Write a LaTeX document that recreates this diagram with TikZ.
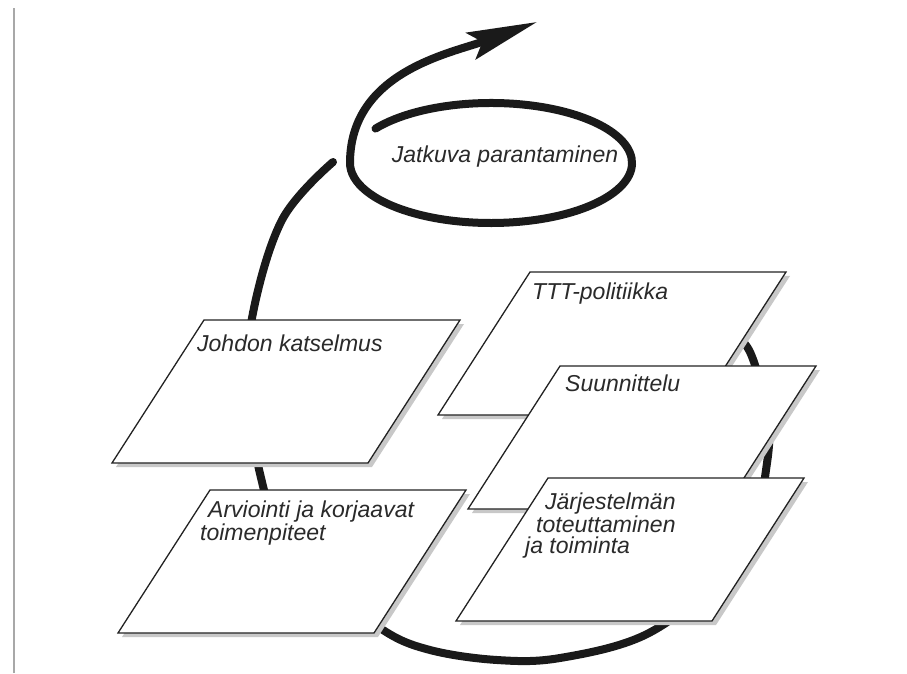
\documentclass[tikz,border=0pt]{standalone}
\usepackage{fontspec}
\setsansfont{Liberation Sans}
\usepackage{xcolor}
\definecolor{loopink}{HTML}{1A1A1A}
\definecolor{plateline}{HTML}{222222}
\definecolor{plateshade}{HTML}{C8C8C8}
\definecolor{labelink}{HTML}{2A2A2A}
\definecolor{edgegray}{HTML}{A8A8A8}
\usepackage{tikz}
\usetikzlibrary{arrows.meta}
% one slanted plate: name, bottom left x, bottom left y
\newcommand{\plate}[3]{%
  \fill[plateshadow] (#2+4,#3-4) -- ++(256,0) -- ++(92,143) -- ++(-256,0) -- cycle;
  \filldraw[platebox] (#2,#3) coordinate (#1) -- ++(256,0) -- ++(92,143) -- ++(-256,0) -- cycle;}

\begin{document}
\begin{tikzpicture}[x=1pt,y=1pt,
  loopline/.style={line width=8pt,draw=loopink,line cap=round},
  platebox/.style={fill=white,draw=plateline,line width=1.3pt},
  plateshadow/.style={fill=plateshade},
  plabel/.style={anchor=north west,inner sep=0pt,align=left,text=labelink,
    font=\sffamily\itshape\fontsize{23}{21}\selectfont}]
\useasboundingbox (0,0) rectangle (907,673);
\draw[edgegray,line width=2pt] (14,0) -- (14,665);
% outer loop, runs behind the plates
\draw[loopline] plot[smooth,tension=0.6] coordinates {(725,345) (750,321) (768,253)
  (766,203) (752,140) (715,90) (645,38) (560,15) (497,13) (430,23) (383,43)
  (330,88) (280,143) (262,191) (248,273) (252,355) (282,453) (333,511)};
% plates, back to front
\plate{ttt}{438}{258}
\plate{suun}{468}{164}
\plate{jarj}{456}{52}
\plate{johd}{112}{210}
\plate{arvi}{118}{40}
% plate texts
\node[plabel] (tttL) at (532,390) {TTT-politiikka};
\node[plabel] (suunL) at (565,298) {Suunnittelu};
\node[plabel] (jarjL) at (525,180) {\hspace*{20pt}Järjestelmän\\\hspace*{11pt}toteuttaminen\\ja toiminta};
\node[plabel] (johdL) at (197,338) {Johdon katselmus};
\node[plabel] (arviL) at (200,172) {\hspace*{8pt}Arviointi ja korjaavat\\toimenpiteet};
% inner loop and arrow
\draw[loopline,-{Stealth[length=70pt,width=28pt,inset=12pt]}] (491,510) ++(145:141 and 60)
  arc[start angle=145,end angle=-180,x radius=141,y radius=60] to[out=90,in=200] (537,651);
\node[plabel,anchor=base] (jatkL) at (505,510) {Jatkuva parantaminen};
\end{tikzpicture}
\end{document}
